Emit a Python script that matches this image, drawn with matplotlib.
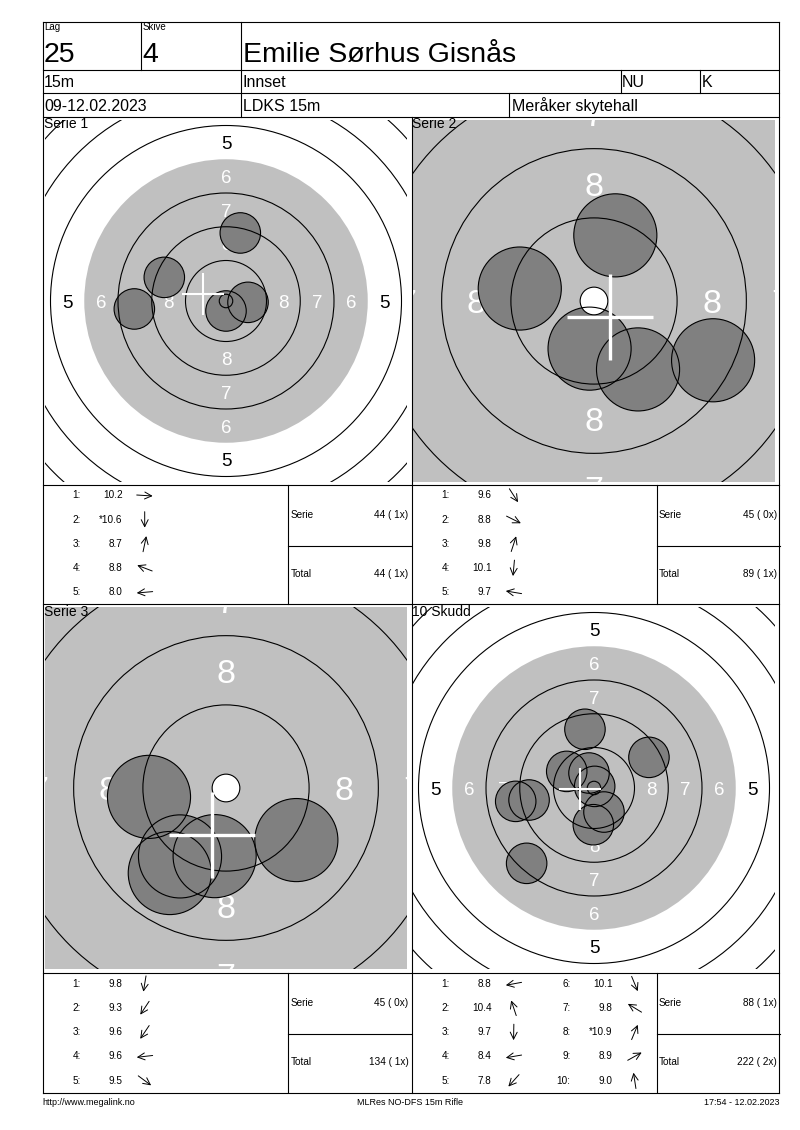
import math

import matplotlib
matplotlib.use('Agg')
import matplotlib.pyplot as plt
import matplotlib.patches as patches

plt.rcParams['font.family'] = ['Liberation Sans', 'DejaVu Sans']

# --------        header        --------
LAG = '25'
SKIVE = '4'
NAME = 'Emilie Sørhus Gisnås'
DISTANCE = '15m'
CLUB = 'Innset'
CLASS = 'NU'
GENDER = 'K'
DATES = '09-12.02.2023'
EVENT = 'LDKS 15m'
PLACE = 'Meråker skytehall'
FOOTER = ['http://www.megalink.no', 'MLRes NO-DFS 15m Rifle', '17:54 - 12.02.2023']

# --------        target        --------
ring_scores = [10, 9, 8, 7, 6, 5, 4, 3, 2, 1]
ring_radii = [0.5, 3.0, 5.5, 8.0, 10.5, 13.0, 15.5, 18.0, 20.5, 23.0]  # mm, outer edge
BLACK_RING = 6  # aiming area (grey) goes out to this ring
SHOT_RADIUS = 1.5

# --------        shots (mm from centre)        --------
s1_x = [1.63, 0.00, 1.06, -4.57, -6.79]
s1_y = [-0.10, -0.74, 5.04, 1.75, -0.59]
s1_score = ['10.2', '*10.6', '8.7', '8.8', '8.0']
s1_cross = (-1.68, 0.54)

s2_x = [1.59, 4.30, 0.77, -0.16, -2.68]
s2_y = [-2.47, -2.14, 2.37, -1.72, 0.45]
s2_score = ['9.6', '8.8', '9.8', '10.1', '9.7']
s2_cross = (0.58, -0.58)

s3_x = [-0.41, -2.03, -1.66, -2.78, 2.54]
s3_y = [-2.46, -3.07, -2.47, -0.32, -1.88]
s3_score = ['9.8', '9.3', '9.6', '9.6', '9.5']
s3_cross = (-0.51, -1.70)

s4_x = [-4.81, -0.37, -0.05, -5.80, -4.99, 0.74, -2.02, 0.05, 4.07, -0.67]
s4_y = [-0.89, 1.11, -2.72, -0.99, -5.58, -1.78, 1.23, 0.12, 2.27, 4.35]
s4_score = ['8.8', '10.4', '9.7', '8.4', '7.8', '10.1', '9.8', '*10.9', '8.9', '9.0']
s4_cross = (-1.06, -0.05)

titles = ['Serie 1', 'Serie 2', 'Serie 3', '10 Skudd']
serie_sums = ['44 ( 1x)', '45 ( 0x)', '45 ( 0x)', '88 ( 1x)']
total_sums = ['44 ( 1x)', '89 ( 1x)', '134 ( 1x)', '222 ( 2x)']

W, H = 800, 1130
fig = plt.figure(figsize=(W/100, H/100), dpi=100)


def px_axes(cx, cy, size):
    return fig.add_axes([(cx - size/2)/W, 1 - (cy + size/2)/H, size/W, size/H])


def draw_target(ax, xs, ys, cross, scale, label_size, zoomed):
    half = 181 / scale
    ax.set_xlim(-half, half)
    ax.set_ylim(-half, half)
    ax.axis('off')
    ax.add_patch(patches.Rectangle((-half, -half), 2*half, 2*half, facecolor='white', edgecolor='none', zorder=0))

    grey_r = ring_radii[ring_scores.index(BLACK_RING)]
    ax.add_patch(patches.Circle((0, 0), grey_r, facecolor='#c0c0c0', edgecolor='none', zorder=1))
    ax.add_patch(patches.Circle((0, 0), ring_radii[0], facecolor='white', edgecolor='none',
                                zorder=3.5 if zoomed else 1.5))

    # ring numbers (only those that reach into the view)
    em = label_size * 100/72 / scale
    for i, score in enumerate(ring_scores):
        if score > 8:
            continue
        r = (ring_radii[i] + ring_radii[i - 1]) / 2
        if r - half > 0.5*em:
            continue
        color = 'white' if score >= BLACK_RING else 'black'
        for px, py in [(0, r), (0, -r), (r, 0), (-r, 0)]:
            ax.text(px, py - 0.36*em, str(score), color=color, fontsize=label_size,
                    ha='center', va='baseline', zorder=2, clip_on=True)

    for x, y in zip(xs, ys):
        ax.add_patch(patches.Circle((x, y), SHOT_RADIUS, facecolor='#808080', edgecolor='none', zorder=3))

    for score, r in zip(ring_scores, ring_radii):
        if score == BLACK_RING:
            continue
        ax.add_patch(patches.Circle((0, 0), r, fill=False, edgecolor='black', lw=0.8, zorder=4))

    for x, y in zip(xs, ys):
        ax.add_patch(patches.Circle((x, y), SHOT_RADIUS, fill=False, edgecolor='black', lw=0.8, zorder=5))

    cx, cy = cross
    arm = 1.55
    lw = 2.4 if zoomed else 1.5
    ax.plot([cx - arm, cx + arm], [cy, cy], color='white', lw=lw, solid_capstyle='butt', zorder=6)
    ax.plot([cx, cx], [cy - arm, cy + arm], color='white', lw=lw, solid_capstyle='butt', zorder=6)


panels = [
    dict(xs=s1_x, ys=s1_y, scores=s1_score, cross=s1_cross, scale=13.5, size=13.5, zoomed=False),
    dict(xs=s2_x, ys=s2_y, scores=s2_score, cross=s2_cross, scale=27.7, size=24.5, zoomed=True),
    dict(xs=s3_x, ys=s3_y, scores=s3_score, cross=s3_cross, scale=27.7, size=24.5, zoomed=True),
    dict(xs=s4_x, ys=s4_y, scores=s4_score, cross=s4_cross, scale=13.5, size=13.5, zoomed=False),
]
centres = [(226, 301), (594, 301), (226, 788), (594, 788)]

for p, (cx, cy) in zip(panels, centres):
    ax = px_axes(cx, cy, 362)
    draw_target(ax, p['xs'], p['ys'], p['cross'], p['scale'], p['size'], p['zoomed'])

# --------        overlay: frame, texts, tables        --------
ov = fig.add_axes([0, 0, 1, 1])
ov.set_xlim(0, W)
ov.set_ylim(H, 0)
ov.axis('off')
ov.patch.set_alpha(0)

L, R, MID = 42.7, 779.3, 411.7


def hline(y, x1, x2):
    ov.plot([x1, x2], [y, y], color='black', lw=0.8, solid_capstyle='projecting')


def vline(x, y1, y2):
    ov.plot([x, x], [y1, y2], color='black', lw=0.8, solid_capstyle='projecting')


for y in [21.7, 70, 92.7, 116.7, 485, 604, 973.3, 1093.3]:
    hline(y, L, R)
vline(L, 21.7, 1093.3)
vline(R, 21.7, 1093.3)
vline(141.3, 21.7, 70)
vline(241.3, 21.7, 116.7)
vline(620.7, 70, 92.7)
vline(700.3, 70, 92.7)
vline(509, 92.7, 116.7)
vline(MID, 116.7, 1093.3)

# header texts
ov.text(44, 22.5, 'Lag', fontsize=7, va='top')
ov.text(143, 22.5, 'Skive', fontsize=7, va='top')
ov.text(43.5, 61.7, LAG, fontsize=20.5, va='baseline')
ov.text(142.5, 61.7, SKIVE, fontsize=20.5, va='baseline')
ov.text(243, 61.7, NAME, fontsize=20.5, va='baseline')
for x, t in [(44, DISTANCE), (243, CLUB), (622, CLASS), (702, GENDER)]:
    ov.text(x, 87.3, t, fontsize=11.5, va='baseline')
for x, t in [(44, DATES), (243, EVENT), (512, PLACE)]:
    ov.text(x, 111, t, fontsize=11.5, va='baseline')

# panel titles
for (x, y), t in zip([(43.5, 117), (412, 117), (43.5, 604.5), (412, 604.5)], titles):
    ov.text(x, y, t, fontsize=10, va='top', ha='left')

# tables
ROW_H = 24.2
for k, p in enumerate(panels):
    x0 = L if k % 2 == 0 else MID
    y0 = 485 if k < 2 else 973.3
    box = 288.3 if k % 2 == 0 else 656.7
    vline(box, y0, y0 + 119)
    hline(y0 + 60.7, box, x0 + 368.6)
    ov.text(box + 2, y0 + 29.5, 'Serie', fontsize=7.2, va='center')
    ov.text(box + 120, y0 + 29.5, serie_sums[k], fontsize=7.2, va='center', ha='right')
    ov.text(box + 2, y0 + 89, 'Total', fontsize=7.2, va='center')
    ov.text(box + 120, y0 + 89, total_sums[k], fontsize=7.2, va='center', ha='right')

    for i, (sx, sy, sc) in enumerate(zip(p['xs'], p['ys'], p['scores'])):
        col, row = divmod(i, 5)
        cx = x0 + col*121
        yy = y0 + 10.5 + row*ROW_H
        ov.text(cx + 38, yy, f'{i + 1}:', fontsize=7.2, va='center', ha='right')
        ov.text(cx + 80, yy, sc, fontsize=7.2, va='center', ha='right')
        a = math.atan2(sy, sx)
        ux, uy = math.cos(a)*8, -math.sin(a)*8
        ax_c = cx + 102
        ov.annotate('', xy=(ax_c + ux, yy + uy), xytext=(ax_c - ux, yy - uy),
                    arrowprops=dict(arrowstyle='->,head_length=0.5,head_width=0.25',
                                    lw=0.7, color='black', shrinkA=0, shrinkB=0))

# footer
ov.text(L, 1102.3, FOOTER[0], fontsize=6.5, va='center', ha='left')
ov.text(410, 1102.3, FOOTER[1], fontsize=6.5, va='center', ha='center')
ov.text(R, 1102.3, FOOTER[2], fontsize=6.5, va='center', ha='right')

fig.savefig('out.png', dpi=100)
